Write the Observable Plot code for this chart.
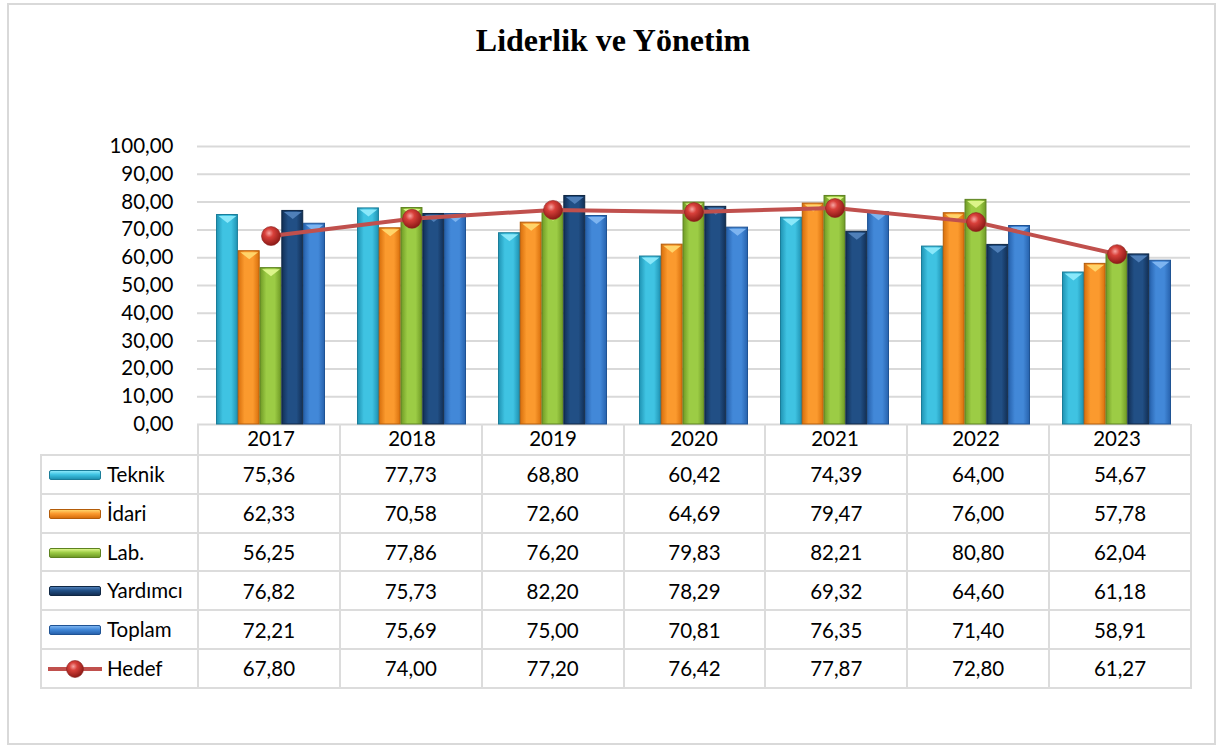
<!DOCTYPE html>
<html>
<head>
<meta charset="utf-8">
<script src="https://cdn.jsdelivr.net/npm/d3@7"></script>
<script src="https://cdn.jsdelivr.net/npm/@observablehq/plot@0.6"></script>
<style>
  html, body { margin: 0; padding: 0; background: #fff; }
  body { width: 1219px; height: 747px; position: relative; overflow: hidden; font-family: Lato, "Open Sans", sans-serif; }
  #frame { position: absolute; left: 7px; top: 3px; width: 1209px; height: 742px; border: 2px solid #d9d9d9; box-sizing: border-box; }
  #title { position: absolute; left: 0; top: 22px; width: 1226px; text-align: center; font-family: "Liberation Serif", "DejaVu Serif", serif; font-weight: bold; font-size: 32px; color: #000; }
  #chart { position: absolute; left: 0; top: 100px; }
  #tbl { position: absolute; left: 40px; top: 424px; border-collapse: collapse; table-layout: fixed; font-family: Lato, sans-serif; font-size: 20.5px; color: #000; }
  #tbl td { border: 2px solid #dcdcdc; padding: 0; text-align: center; height: 38.8px; box-sizing: border-box; }
  #tbl tr.head td { height: 31px; border-top: none; }
  #tbl tr.head td.blank { border: none; border-right: 2px solid #dcdcdc; }
  #tbl td.lab { text-align: left; position: relative; }
  .sw { position: absolute; left: 7px; top: 14px; width: 52px; height: 10px; border-radius: 2px; box-sizing: border-box; }
  .lt { position: absolute; left: 65px; top: 6px; }
</style>
</head>
<body>
<div id="frame"></div>
<div id="title">Liderlik ve Yönetim</div>
<div id="chart"></div>
<table id="tbl"></table>
<script>
const years = ["2017", "2018", "2019", "2020", "2021", "2022", "2023"];
const seriesNames = ["Teknik", "İdari", "Lab.", "Yardımcı", "Toplam"];
const teknik   = [75.36, 77.73, 68.80, 60.42, 74.39, 64.00, 54.67];
const idari    = [62.33, 70.58, 72.60, 64.69, 79.47, 76.00, 57.78];
const lab      = [56.25, 77.86, 76.20, 79.83, 82.21, 80.80, 62.04];
const yardimci = [76.82, 75.73, 82.20, 78.29, 69.32, 64.60, 61.18];
const toplam   = [72.21, 75.69, 75.00, 70.81, 76.35, 71.40, 58.91];
const hedef    = [67.80, 74.00, 77.20, 76.42, 77.87, 72.80, 61.27];
const hedefName = "Hedef";
const yTicks = [0, 10, 20, 30, 40, 50, 60, 70, 80, 90, 100];

const seriesValues = [teknik, idari, lab, yardimci, toplam];
const styles = [
  {id: "gT", dark: "#1f93b3", light: "#3fc3e2", top: "#8ae8fa", stroke: "#1b7d99"},
  {id: "gI", dark: "#d86f0c", light: "#fb9a2e", top: "#ffd46a", stroke: "#b35c0a"},
  {id: "gL", dark: "#6f9a25", light: "#9ccc45", top: "#dcf58a", stroke: "#5d8220"},
  {id: "gY", dark: "#122f55", light: "#214f85", top: "#4f7fb8", stroke: "#0f2744"},
  {id: "gP", dark: "#2762ad", light: "#4288d8", top: "#7db4f0", stroke: "#1f5394"}
];

const fmt = v => d3.format(".2f")(v).replace(".", ",");

const W = 1219, mL = 197, mR = 29;
const bw = (W - mL - mR) / years.length;
const gOff = 16.5, barW = (bw - 2 * gOff) / seriesNames.length;

const barData = seriesValues.map(vals => years.map((y, i) => ({year: y, value: vals[i]})));
const hedefData = years.map((y, i) => ({year: y, value: hedef[i]}));

const chevron = { draw(ctx) { const h = barW / 2 - 2; ctx.moveTo(-h, 0); ctx.lineTo(h, 0); ctx.lineTo(0, 7); ctx.closePath(); } };

const marks = [Plot.gridY(yTicks, {stroke: "#d9d9d9", strokeOpacity: 1, strokeWidth: 2})];
barData.forEach((d, j) => {
  const st = styles[j];
  marks.push(Plot.barY(d, {
    x: "year", y: "value", fill: `url(#${st.id})`, stroke: st.stroke, strokeWidth: 1,
    insetLeft: gOff + j * barW, insetRight: bw - gOff - (j + 1) * barW
  }));
  marks.push(Plot.dot(d, {
    x: "year", y: "value", symbol: chevron, r: 5, fill: st.top, stroke: "none",
    dx: -bw / 2 + gOff + (j + 0.5) * barW, dy: 1
  }));
});
marks.push(Plot.lineY(hedefData, {x: "year", y: "value", stroke: "#c0504d", strokeWidth: 4}));
marks.push(Plot.dot(hedefData, {x: "year", y: "value", r: 9.5, fill: "url(#gBall)", stroke: "#8b2220", strokeWidth: 0.6}));

const chart = Plot.plot({
  width: W, height: 355,
  marginLeft: mL, marginRight: mR, marginTop: 46, marginBottom: 31,
  style: {background: "transparent", fontFamily: "Lato, sans-serif", fontSize: "20.5px", color: "#000", overflow: "visible"},
  x: {domain: years, padding: 0, label: null, tickSize: 0, tickPadding: 7},
  y: {domain: [0, 100], ticks: yTicks, tickFormat: fmt, tickSize: 0, tickPadding: 24, label: null},
  marks
});
document.getElementById("chart").appendChild(chart);

const defs = d3.select(chart).insert("defs", ":first-child");
styles.forEach(st => {
  const g = defs.append("linearGradient").attr("id", st.id).attr("x1", "0").attr("x2", "1").attr("y1", "0").attr("y2", "0");
  g.append("stop").attr("offset", "0%").attr("stop-color", st.dark);
  g.append("stop").attr("offset", "30%").attr("stop-color", st.light);
  g.append("stop").attr("offset", "70%").attr("stop-color", st.light);
  g.append("stop").attr("offset", "100%").attr("stop-color", st.dark);
});
const rg = defs.append("radialGradient").attr("id", "gBall").attr("cx", "40%").attr("cy", "35%").attr("r", "65%");
rg.append("stop").attr("offset", "0%").attr("stop-color", "#f7a5a2");
rg.append("stop").attr("offset", "35%").attr("stop-color", "#d8403a");
rg.append("stop").attr("offset", "100%").attr("stop-color", "#8c1a16");

const tbl = document.getElementById("tbl");
const colgroup = document.createElement("colgroup");
const c0 = document.createElement("col"); c0.style.width = (mL - 40) + "px"; colgroup.appendChild(c0);
years.forEach(() => { const c = document.createElement("col"); c.style.width = bw + "px"; colgroup.appendChild(c); });
tbl.appendChild(colgroup);
tbl.style.width = (W - mR - 40) + "px";
const head = document.createElement("tr"); head.className = "head";
const hb = document.createElement("td"); hb.className = "blank"; head.appendChild(hb);
years.forEach(() => head.appendChild(document.createElement("td")));
tbl.appendChild(head);

function swatchHTML(j) {
  const st = styles[j];
  return `<div class="sw" style="background:linear-gradient(${st.top}, ${st.light} 45%, ${st.dark});border:1px solid ${st.stroke}"></div>`;
}
const hedefSwatch = `<svg class="sw" style="top:8px;height:22px;width:56px;left:5px;overflow:visible" width="56" height="22"><line x1="1" x2="55" y1="11" y2="11" stroke="#c0504d" stroke-width="4"/><circle cx="28" cy="11" r="8.5" fill="url(#gBallL)" stroke="#8b2220" stroke-width="0.6"/><defs><radialGradient id="gBallL" cx="40%" cy="35%" r="65%"><stop offset="0%" stop-color="#f7a5a2"/><stop offset="35%" stop-color="#d8403a"/><stop offset="100%" stop-color="#8c1a16"/></radialGradient></defs></svg>`;

const rows = seriesNames.map((n, j) => ({name: n, sw: swatchHTML(j), vals: seriesValues[j]}));
rows.push({name: hedefName, sw: hedefSwatch, vals: hedef});
rows.forEach(r => {
  const tr = document.createElement("tr");
  const td = document.createElement("td"); td.className = "lab";
  td.innerHTML = r.sw + `<span class="lt">${r.name}</span>`;
  tr.appendChild(td);
  r.vals.forEach(v => { const c = document.createElement("td"); c.textContent = fmt(v); tr.appendChild(c); });
  tbl.appendChild(tr);
});
</script>
</body>
</html>
